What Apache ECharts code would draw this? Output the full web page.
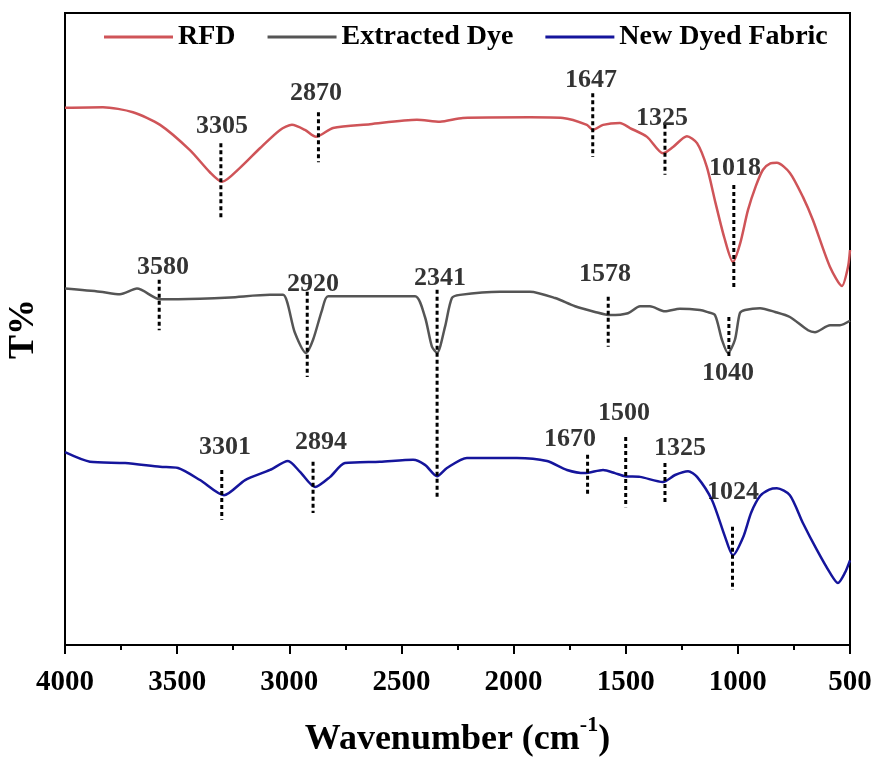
<!DOCTYPE html>
<html>
<head>
<meta charset="utf-8">
<script src="https://cdn.jsdelivr.net/npm/echarts@6/dist/echarts.min.js"></script>
<style>
html,body{margin:0;padding:0;background:#fff;}
#chart{width:876px;height:762px;}
</style>
</head>
<body>
<div id="chart"></div>
<script>
// Series names
const seriesNames = ['RFD', 'Extracted Dye', 'New Dyed Fabric'];

// [wavenumber (cm-1), T% (arbitrary offset units)]
const rfd = [[4000,85.0],[3831,85.1],[3697,84.3],[3576,82.3],[3443,78.3],[3354,74.8],[3300,73.3],[3220,75.5],[3131,78.6],[3041,81.5],[2988,82.3],[2930,81.5],[2881,80.4],[2805,81.8],[2640,82.4],[2431,83.1],[2328,82.8],[2226,83.4],[1927,83.5],[1780,83.4],[1673,82.3],[1646,81.5],[1601,82.3],[1526,82.6],[1481,81.8],[1405,80.4],[1334,77.8],[1289,78.8],[1227,80.5],[1182,79.4],[1138,75.6],[1100,70.0],[1060,64.4],[1022,60.6],[990,63.5],[955,68.8],[920,72.6],[888,75.2],[855,76.2],[826,76.3],[768,74.7],[710,70.9],[665,67.2],[589,59.8],[536,56.8],[509,59.8],[500,62.5]];

const extractedDye = [[4000,56.4],[3844,55.9],[3755,55.5],[3679,56.4],[3576,54.7],[3398,54.8],[3264,55.0],[3086,55.4],[3028,55.4],[2975,49.4],[2925,46.2],[2894,48.3],[2854,53.0],[2827,55.2],[2596,55.2],[2439,55.2],[2395,51.9],[2364,47.2],[2341,46.2],[2306,50.3],[2275,54.9],[2239,55.4],[2061,55.9],[1927,55.9],[1815,54.9],[1726,53.6],[1637,52.7],[1570,52.2],[1490,52.5],[1436,53.6],[1392,53.6],[1325,52.8],[1258,53.2],[1169,53.0],[1138,52.7],[1102,52.2],[1071,48.3],[1044,46.2],[1013,48.3],[991,52.5],[968,53.0],[901,53.3],[834,52.7],[768,51.9],[687,49.8],[656,49.5],[589,50.6],[545,50.6],[500,51.3]];

const newDyedFabric = [[4000,30.5],[3889,29.0],[3732,28.8],[3576,28.2],[3496,28.0],[3398,26.1],[3291,23.7],[3197,26.1],[3086,27.7],[3006,29.1],[2952,27.4],[2885,25.0],[2818,26.6],[2752,28.8],[2596,29.0],[2448,29.3],[2395,28.5],[2341,26.7],[2297,28.0],[2208,29.6],[1985,29.6],[1851,29.1],[1762,27.7],[1682,27.2],[1601,27.7],[1548,27.2],[1503,26.7],[1436,26.6],[1334,25.8],[1280,26.9],[1222,27.5],[1182,26.6],[1115,22.9],[1057,17.1],[1022,14.2],[977,17.0],[940,21.0],[900,23.6],[860,24.6],[826,24.8],[768,23.7],[710,19.3],[647,15.0],[589,11.4],[554,9.8],[523,11.4],[500,13.4]];

// Peak marker lines (dotted verticals)
const markWave   = [3305, 2870, 1647, 1325, 1018, 3580, 2920, 2341, 1578, 1040, 3301, 2894, 1670, 1500, 1325, 1024];
const markTop    = [79.4, 84.3, 87.3, 82.3, 72.8, 57.8, 55.9, 56.2, 55.1, 51.9, 27.7, 29.0, 30.1, 32.9, 28.8, 18.7];
const markBottom = [67.7, 76.4, 77.2, 74.4, 56.6, 49.8, 42.4, 23.3, 47.2, 45.6, 19.8, 20.9, 23.6, 21.8, 22.2, 8.7];

// Peak labels
const labelText = ['3305','2870','1647','1325','1018','3580','2920','2341','1578','1040','3301','2894','1670','1500','1325','1024'];
const labelWave = [3300, 2881, 1655, 1338, 1013, 3563, 2894, 2328, 1592, 1044, 3287, 2859, 1748, 1508, 1258, 1022];
const labelT    = [82.0, 87.3, 89.4, 83.4, 75.5, 59.8, 57.0, 58.1, 58.7, 43.0, 31.3, 32.1, 32.6, 36.7, 31.2, 24.1];

// Axis ticks
const xMin = 500, xMax = 4000, xStep = 500;

const FONT = '"Times New Roman", "Liberation Serif", serif';
const colors = ['#cf5458', '#555555', '#15159c'];

const chart = echarts.init(document.getElementById('chart'), null, {renderer: 'canvas'});

const series = [];
[rfd, extractedDye, newDyedFabric].forEach((d, i) => {
  series.push({
    name: seriesNames[i], type: 'line', data: d, showSymbol: false, symbol: 'none',
    smooth: 0.25, lineStyle: {color: colors[i], width: 2.5}, itemStyle: {color: colors[i]},
    z: 3, silent: true
  });
});
markWave.forEach((w, i) => {
  series.push({
    type: 'line', data: [[w, markTop[i]], [w, markBottom[i]]], symbol: 'none', showSymbol: false,
    lineStyle: {color: '#000', width: 3, type: [4, 3]}, z: 4, silent: true
  });
});
series.push({
  type: 'scatter', symbolSize: 1, itemStyle: {color: 'rgba(0,0,0,0)'},
  data: labelText.map((t, i) => ({value: [labelWave[i], labelT[i]], name: t})),
  label: {show: true, position: 'inside', formatter: '{b}', color: '#000',
    fontFamily: FONT, fontWeight: 'bold', fontSize: 26},
  z: 5, silent: true
});

chart.setOption({
  animation: false,
  backgroundColor: '#fff',
  grid: {left: 65, right: 26, top: 13, bottom: 117, show: true, borderColor: '#000', borderWidth: 2,
    containLabel: false, outerBoundsMode: 'none'},
  legend: {
    data: seriesNames, left: 99, top: 18, itemWidth: 69, itemHeight: 3, icon: 'rect', itemGap: 32,
    textStyle: {fontFamily: FONT, fontWeight: 'bold', fontSize: 28, color: '#000'}
  },
  xAxis: {
    type: 'value', min: xMin, max: xMax, interval: xStep, inverse: true,
    name: '{m|Wavenumber (cm}{sup|-1}{m|)}', nameLocation: 'middle', nameGap: 69,
    nameTextStyle: {fontFamily: FONT, fontWeight: 'bold', fontSize: 36, color: '#000',
      rich: {
        m: {fontFamily: FONT, fontWeight: 'bold', fontSize: 36, color: '#000', lineHeight: 44, verticalAlign: 'bottom'},
        sup: {fontFamily: FONT, fontWeight: 'bold', fontSize: 22, color: '#000', lineHeight: 22, verticalAlign: 'top'}
      }},
    axisLine: {show: true, onZero: false, lineStyle: {color: '#000', width: 2}},
    axisTick: {show: true, inside: false, length: 9, lineStyle: {color: '#000', width: 2}},
    minorTick: {show: true, splitNumber: 2, length: 5, lineStyle: {color: '#000', width: 2}},
    axisLabel: {fontFamily: FONT, fontWeight: 'bold', fontSize: 29, color: '#000', margin: 23,
      showMinLabel: true, showMaxLabel: true, formatter: v => String(v)},
    splitLine: {show: false}
  },
  yAxis: {
    type: 'value', min: 0, max: 100,
    name: 'T%', nameLocation: 'middle', nameGap: 23, nameRotate: 90,
    nameTextStyle: {fontFamily: FONT, fontWeight: 'bold', fontSize: 36, color: '#000'},
    axisLine: {show: true, lineStyle: {color: '#000', width: 2}},
    axisTick: {show: false}, axisLabel: {show: false}, splitLine: {show: false}
  },
  series: series
});
</script>
</body>
</html>
